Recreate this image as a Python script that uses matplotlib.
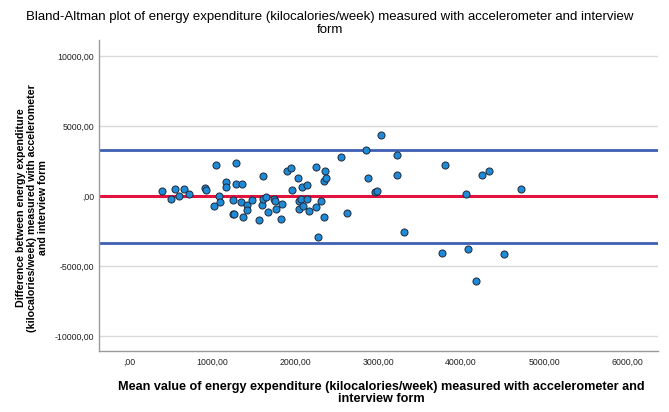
import matplotlib
matplotlib.use("Agg")
import matplotlib.pyplot as plt

# Значення (середнє, різниця), ккал/тиждень
mean_vals = [401, 510, 554, 606, 667, 727, 920, 932, 1044, 1020,
             1084, 1092, 1173, 1173, 1285, 1293, 1365, 1249, 1249, 1269,
             1345, 1422, 1426, 1377, 1482, 1562, 1598, 1614, 1618, 1647,
             1675, 1751, 1759, 1775, 1835, 1839, 1900, 1952, 1964, 2040,
             2084, 2145, 2048, 2068, 2052, 2092, 2149, 2169, 2253, 2357,
             2353, 2377, 2253, 2309, 2353, 2273, 2550, 2627, 2860, 2880,
             2960, 2988, 3036, 3233, 3233, 3309, 3807, 3767, 4056, 4088,
             4185, 4257, 4333, 4514, 4723]
diff_vals = [379, -214, 500, -24, 500, 119, 595, 429, 2214, -714,
             24, -429, 976, 667, 2333, 881, 833, -262, -1310, -1310,
             -429, -643, -1000, -1524, -286, -1714, -619, 1429, -190, -95,
             -1143, -214, -333, -905, -1667, -548, 1810, 2024, 429, 1310,
             643, 786, -333, -190, -929, -738, -190, -1095, 2071, 1786,
             1095, 1262, -810, -333, -1524, -2929, 2810, -1190, 3286, 1286,
             262, 381, 4381, 2952, 1476, -2548, 2190, -4071, 167, -3762,
             -6095, 1500, 1762, -4119, 500]

mean_diff = -20
upper_loa = 3270
lower_loa = -3330

x_ticks = [0, 1000, 2000, 3000, 4000, 5000, 6000]
y_ticks = [-10000, -5000, 0, 5000, 10000]


def fmt(v):
    # SPSS-стиль: кома як десятковий роздільник, без нуля перед комою
    s = f"{v:.2f}".replace(".", ",")
    if s.startswith("0,"):
        s = s[1:]
    return s


plt.rcParams['font.family'] = ['Liberation Sans', 'DejaVu Sans']

fig = plt.figure(figsize=(6.69, 4.12), dpi=100)
ax = fig.add_axes([99/669, 1 - 351/412, (658 - 99)/669, (351 - 40)/412])

ax.set_xlim(-361, 6373)
ax.set_ylim(-11071, 11143)

for y in [-10000, -5000, 5000, 10000]:
    ax.axhline(y, color='#d9d9d9', lw=1.0, zorder=1)

ax.axhline(upper_loa, color='#3e5fb3', lw=2.0, zorder=2)
ax.axhline(lower_loa, color='#3e5fb3', lw=2.0, zorder=2)
ax.axhline(mean_diff, color='#e3133f', lw=2.2, zorder=2)

ax.scatter(mean_vals, diff_vals, s=26, c='#1f8ad6', edgecolors='#1f2a3a',
           linewidths=0.7, zorder=3)

ax.set_xticks(x_ticks)
ax.set_xticklabels([fmt(v) for v in x_ticks])
ax.set_yticks(y_ticks)
ax.set_yticklabels([fmt(v) for v in y_ticks])
ax.tick_params(length=0, labelsize=6.3, colors='#222222')
ax.tick_params(axis='x', pad=5)
ax.tick_params(axis='y', pad=3.5)

for side in ['top', 'right']:
    ax.spines[side].set_visible(False)
for side in ['left', 'bottom']:
    ax.spines[side].set_color('#9a9a9a')
    ax.spines[side].set_linewidth(1.0)

fig.text(330/669, 1 - 23.5/412,
         "Bland-Altman plot of energy expenditure (kilocalories/week) measured with accelerometer and interview\nform",
         ha='center', va='center', fontsize=9.5, linespacing=1.05)

fig.text(381/669, 1 - 393/412,
         "Mean value of energy expenditure (kilocalories/week) measured with accelerometer and\ninterview form",
         ha='center', va='center', fontsize=9.1, fontweight='bold', linespacing=1.1)

fig.text(32/669, 1 - 208/412,
         "Difference between energy expenditure\n(kilocalories/week) measured with accelerometer\nand interview form",
         ha='center', va='center', rotation=90, fontsize=7.7, fontweight='bold',
         linespacing=1.15)

fig.savefig("out.png", dpi=100, facecolor='white')
